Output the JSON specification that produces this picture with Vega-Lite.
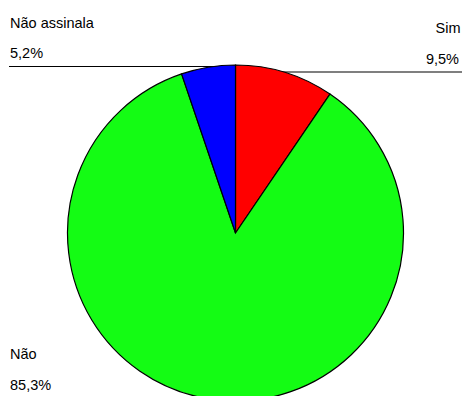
{
  "$schema": "https://vega.github.io/schema/vega-lite/v6.json",
  "autosize": {"type": "none"},
  "padding": {"left": 7, "top": 70, "right": 0, "bottom": 0},
  "width": 457,
  "height": 326,
  "background": "white",
  "config": {
    "view": {"stroke": null},
    "locale": {"number": {"decimal": ",", "thousands": ".", "grouping": [3], "currency": ["R$", ""]}},
    "text": {"font": "Liberation Sans", "fontSize": 14.5, "color": "#000000"}
  },
  "data": {
    "values": [
      {"resposta": "Sim", "share": 0.095, "ordem": 1},
      {"resposta": "Não", "share": 0.853, "ordem": 2},
      {"resposta": "Não assinala", "share": 0.052, "ordem": 3}
    ]
  },
  "layer": [
    {
      "data": {"values": [{}]},
      "mark": {"type": "rule", "color": "#000000", "strokeWidth": 1.2},
      "encoding": {"x": {"value": 2}, "x2": {"value": 229}, "y": {"value": -3.5}, "y2": {"value": -3.5}}
    },
    {
      "data": {"values": [{}]},
      "mark": {"type": "rule", "color": "#000000", "strokeWidth": 1.2},
      "encoding": {"x": {"value": 229}, "x2": {"value": 455}, "y": {"value": 2}, "y2": {"value": 2}}
    },
    {
      "mark": {"type": "arc", "outerRadius": 168, "stroke": "#000000", "strokeWidth": 1.2},
      "encoding": {
        "theta": {"field": "share", "type": "quantitative", "stack": true},
        "order": {"field": "ordem", "type": "quantitative"},
        "color": {
          "field": "resposta",
          "type": "nominal",
          "scale": {"domain": ["Sim", "Não", "Não assinala"], "range": ["#ff0000", "#14fc14", "#0000ff"]},
          "legend": null
        }
      }
    },
    {
      "transform": [{"filter": "datum.resposta === 'Não assinala'"}],
      "layer": [
        {"mark": {"type": "text", "x": 3, "y": -42, "align": "left", "baseline": "alphabetic"},
         "encoding": {"text": {"field": "resposta", "type": "nominal"}}},
        {"mark": {"type": "text", "x": 3, "y": -12, "align": "left", "baseline": "alphabetic"},
         "encoding": {"text": {"field": "share", "type": "quantitative", "format": ".1%"}}}
      ]
    },
    {
      "transform": [{"filter": "datum.resposta === 'Sim'"}],
      "layer": [
        {"mark": {"type": "text", "x": 453.5, "y": -37, "align": "right", "baseline": "alphabetic"},
         "encoding": {"text": {"field": "resposta", "type": "nominal"}}},
        {"mark": {"type": "text", "x": 452, "y": -6, "align": "right", "baseline": "alphabetic"},
         "encoding": {"text": {"field": "share", "type": "quantitative", "format": ".1%"}}}
      ]
    },
    {
      "transform": [{"filter": "datum.resposta === 'Não'"}],
      "layer": [
        {"mark": {"type": "text", "x": 3, "y": 289, "align": "left", "baseline": "alphabetic"},
         "encoding": {"text": {"field": "resposta", "type": "nominal"}}},
        {"mark": {"type": "text", "x": 3, "y": 320, "align": "left", "baseline": "alphabetic"},
         "encoding": {"text": {"field": "share", "type": "quantitative", "format": ".1%"}}}
      ]
    }
  ]
}
